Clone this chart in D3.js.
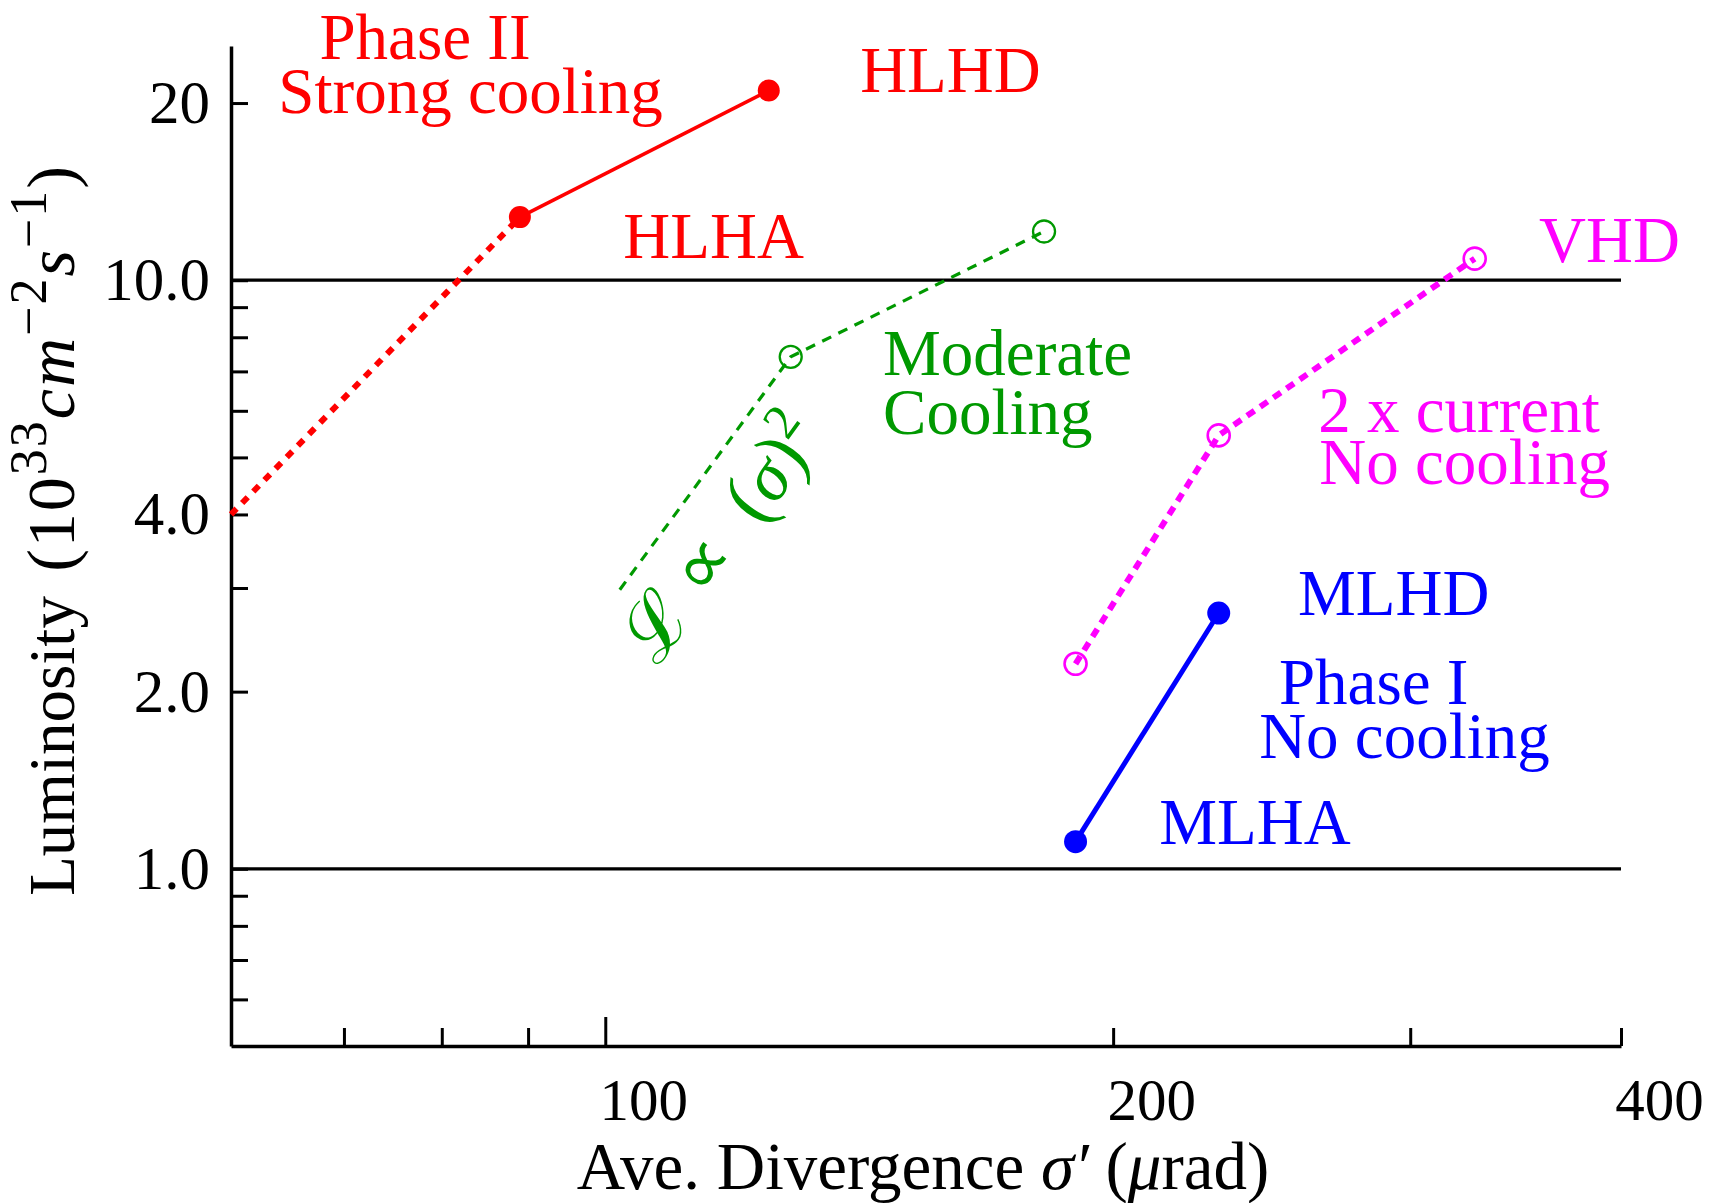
<!DOCTYPE html>
<html>
<head>
<meta charset="utf-8">
<script src="https://cdn.jsdelivr.net/npm/d3@7"></script>
<style>
  html, body { margin: 0; padding: 0; background: #ffffff; }
  svg { display: block; }
  text { font-family: "Liberation Serif", "Times New Roman", serif; }
</style>
</head>
<body>
<svg id="chart" width="1714" height="1203"></svg>
<script>
// ---------- data ----------
const xTicks = [70, 80, 90, 100, 200, 300, 400];
const xTickLabels = [100, 200, 400];
const yTicks = [0.6, 0.7, 0.8, 0.9, 1, 2, 3, 4, 5, 6, 7, 8, 9, 10, 20];
const yTickLabels = ["20", "10.0", "4.0", "2.0", "1.0"];
const refLines = [10, 1];

// Phase II, strong cooling (red)
const redExtrapX = [60, 89];
const redExtrapY = [4.0, 12.8];
const redX = [89, 125];
const redY = [12.8, 21.0];

// Moderate cooling (green)
const greenX = [102, 128.8, 182];
const greenY = [2.98, 7.41, 12.1];
const greenMarkerX = [128.8, 182];
const greenMarkerY = [7.41, 12.1];

// 2 x current, no cooling (magenta)
const magentaX = [190, 231, 327.6];
const magentaY = [2.23, 5.45, 10.88];

// Phase I, no cooling (blue)
const blueX = [190, 231];
const blueY = [1.112, 2.72];

// annotation texts (anchored in data coordinates)
const annotationText = ["Phase II", "Strong cooling", "HLHD", "HLHA", "Moderate", "Cooling",
  "VHD", "2 x current", "No cooling", "MLHD", "Phase I", "No cooling", "MLHA"];
const annotationX = [67.7, 64.0, 141.6, 102.5, 146.1, 146.1, 357.7, 264.6, 265, 257.4, 250.8, 244.1, 213.0];
const annotationY = [23.8, 19.2, 20.9, 10.9, 6.9, 5.48, 10.75, 5.52, 4.51, 2.70, 1.904, 1.542, 1.103];
const annotationColor = ["#ff0000", "#ff0000", "#ff0000", "#ff0000", "#009900", "#009900",
  "#ff00ff", "#ff00ff", "#ff00ff", "#0000ff", "#0000ff", "#0000ff", "#0000ff"];

// ---------- chart ----------
const svg = d3.select("#chart");
const x = d3.scaleLog().domain([60, 400]).range([231, 1621]);
const y = d3.scaleLog().domain([0.5, 25]).range([1046, 46]);

const line = d3.line().x(d => x(d[0])).y(d => y(d[1]));
const zip = (a, b) => a.map((v, i) => [v, b[i]]);

// reference horizontal lines
svg.selectAll("line.ref").data(refLines).enter().append("line")
  .attr("class", "ref")
  .attr("x1", x(60)).attr("x2", x(400))
  .attr("y1", d => y(d)).attr("y2", d => y(d))
  .attr("stroke", "#000").attr("stroke-width", 3.2);

// axes
const xAxis = d3.axisBottom(x).tickValues(xTicks).tickSizeInner(-18).tickSizeOuter(0)
  .tickPadding(32).tickFormat(d => xTickLabels.includes(d) ? String(d) : "");
const gx = svg.append("g").attr("transform", `translate(0,${y(0.5)})`).call(xAxis);
gx.select(".domain").attr("stroke-width", 3.5);
gx.selectAll(".tick line").attr("stroke-width", 3).attr("y2", d => d === 100 ? -29 : -18);
gx.selectAll(".tick text").attr("font-size", 59).attr("dx", 38)
  .style("font-family", '"Liberation Serif", serif').attr("fill", "#000");

const yAxis = d3.axisLeft(y).tickValues(yTicks).tickSizeInner(-17).tickSizeOuter(0)
  .tickPadding(21).tickFormat(d => {
    const m = {20: "20", 10: "10.0", 4: "4.0", 2: "2.0", 1: "1.0"};
    return m[d] !== undefined && yTickLabels.includes(m[d]) ? m[d] : "";
  });
const gy = svg.append("g").attr("transform", `translate(${x(60)},0)`).call(yAxis);
gy.select(".domain").attr("stroke-width", 3.5);
gy.selectAll(".tick line").attr("stroke-width", 3);
gy.selectAll(".tick text").attr("font-size", 61)
  .style("font-family", '"Liberation Serif", serif').attr("fill", "#000");

// red extrapolation (dotted) and solid
svg.append("path").datum(zip(redExtrapX, redExtrapY)).attr("d", line)
  .attr("fill", "none").attr("stroke", "#ff0000").attr("stroke-width", 6)
  .attr("stroke-dasharray", "8,8");
svg.append("path").datum(zip(redX, redY)).attr("d", line)
  .attr("fill", "none").attr("stroke", "#ff0000").attr("stroke-width", 3.5);
svg.selectAll("circle.red").data(zip(redX, redY)).enter().append("circle")
  .attr("cx", d => x(d[0])).attr("cy", d => y(d[1])).attr("r", 11).attr("fill", "#ff0000");

// green dashed with open markers
svg.append("path").datum(zip(greenX, greenY)).attr("d", line)
  .attr("fill", "none").attr("stroke", "#009900").attr("stroke-width", 3.2)
  .attr("stroke-dasharray", "10,8");
svg.selectAll("circle.green").data(zip(greenMarkerX, greenMarkerY)).enter().append("circle")
  .attr("cx", d => x(d[0])).attr("cy", d => y(d[1])).attr("r", 11)
  .attr("fill", "none").attr("stroke", "#009900").attr("stroke-width", 2.3);

// magenta dotted with open markers
svg.append("path").datum(zip(magentaX, magentaY)).attr("d", line)
  .attr("fill", "none").attr("stroke", "#ff00ff").attr("stroke-width", 6)
  .attr("stroke-dasharray", "9,7");
svg.selectAll("circle.mag").data(zip(magentaX, magentaY)).enter().append("circle")
  .attr("cx", d => x(d[0])).attr("cy", d => y(d[1])).attr("r", 11)
  .attr("fill", "none").attr("stroke", "#ff00ff").attr("stroke-width", 2.6);

// blue solid
svg.append("path").datum(zip(blueX, blueY)).attr("d", line)
  .attr("fill", "none").attr("stroke", "#0000ff").attr("stroke-width", 5);
svg.selectAll("circle.blue").data(zip(blueX, blueY)).enter().append("circle")
  .attr("cx", d => x(d[0])).attr("cy", d => y(d[1])).attr("r", 11.5).attr("fill", "#0000ff");

// annotations
annotationText.forEach((t, i) => {
  svg.append("text")
    .attr("x", x(annotationX[i])).attr("y", y(annotationY[i]))
    .attr("font-size", 65).attr("fill", annotationColor[i]).text(t);
});

// rotated scaling-law annotation
const law = svg.append("text")
  .attr("transform", `translate(${x(107.4)},${y(2.2)}) rotate(-54)`)
  .attr("font-size", 70).attr("fill", "#009900");
law.append("tspan").style("font-family", '"DejaVu Serif", serif').attr("font-size", 76).text("ℒ");
law.append("tspan").attr("font-size", 76).text(" ∝\u2002(");
law.append("tspan").attr("font-style", "italic").text("σ");
law.append("tspan").attr("font-size", 76).text(")");
law.append("tspan").attr("dy", -28).attr("font-size", 50).text("2");

// axis titles
const xt = svg.append("text").attr("x", 923).attr("y", 1189)
  .attr("text-anchor", "middle").attr("font-size", 67).attr("fill", "#000");
xt.append("tspan").text("Ave. Divergence ");
xt.append("tspan").attr("font-style", "italic").text("σ′");
xt.append("tspan").text(" (");
xt.append("tspan").attr("font-style", "italic").text("μ");
xt.append("tspan").text("rad)");

const yt = svg.append("text").attr("transform", "translate(74,530) rotate(-90)")
  .attr("text-anchor", "middle").attr("font-size", 65).attr("fill", "#000");
yt.append("tspan").text("Luminosity ");
const ytp = yt.append("tspan").attr("letter-spacing", 2);
ytp.append("tspan").attr("dx", 8).attr("font-size", 68).text("(10");
ytp.append("tspan").attr("dy", -28).attr("font-size", 52).text("33");
ytp.append("tspan").attr("dy", 28).attr("font-size", 68).attr("font-style", "italic").text("cm");
ytp.append("tspan").attr("dy", -28).attr("font-size", 52).text("−2");
ytp.append("tspan").attr("dy", 28).attr("font-size", 68).attr("font-style", "italic").text("s");
ytp.append("tspan").attr("dy", -28).attr("font-size", 52).text("−1");
ytp.append("tspan").attr("dy", 28).attr("font-size", 68).text(")");
</script>
</body>
</html>
